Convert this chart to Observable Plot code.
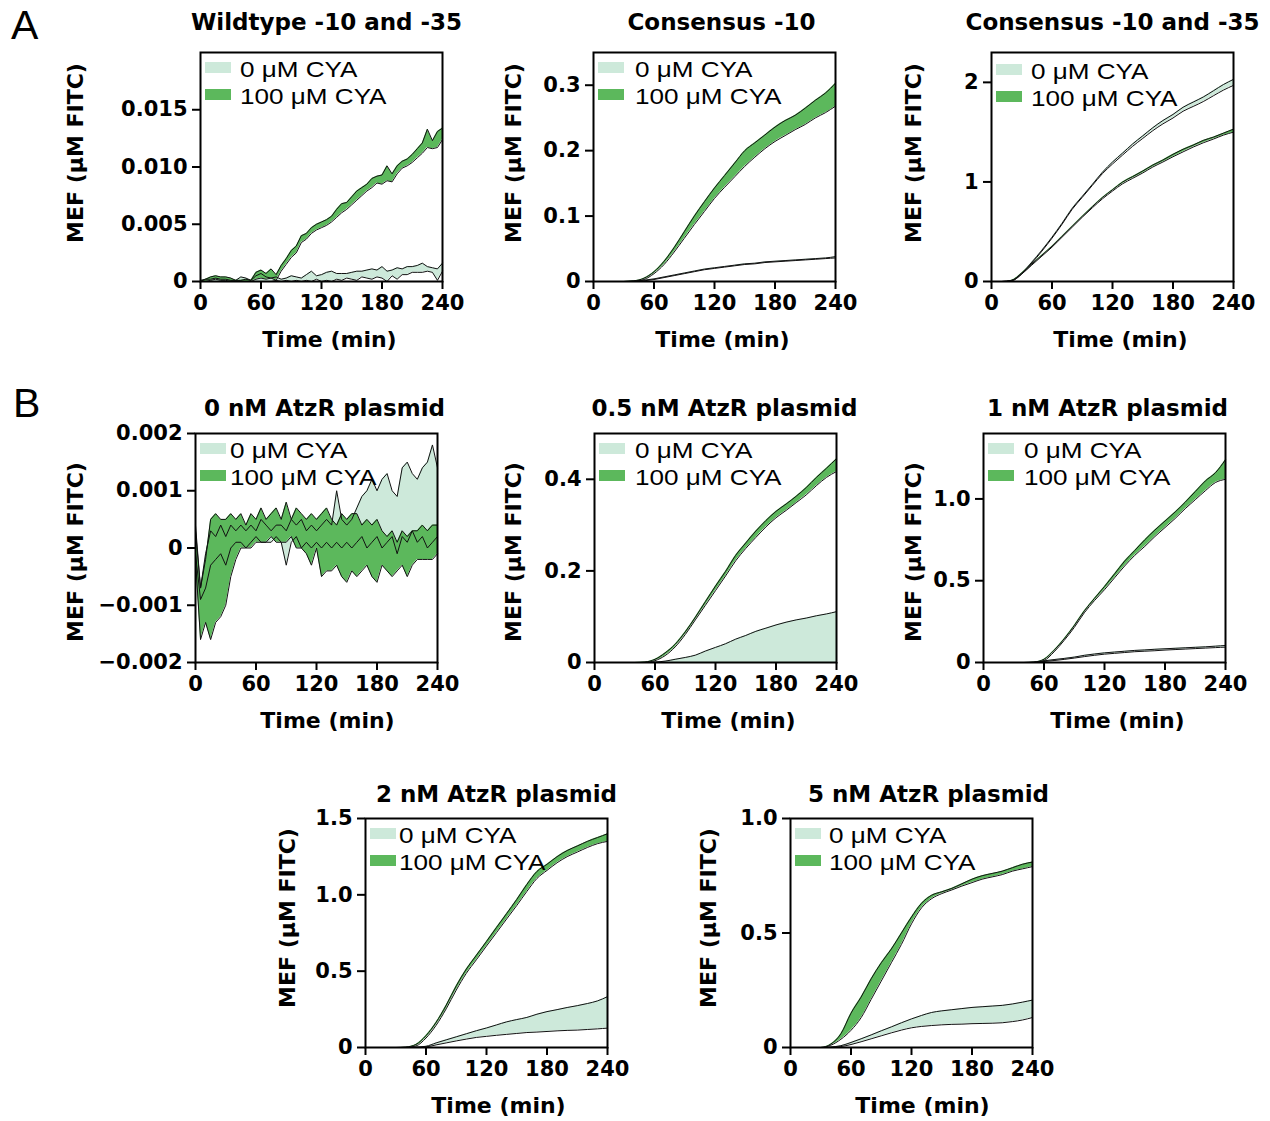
<!DOCTYPE html>
<html><head><meta charset="utf-8">
<script src="https://cdn.jsdelivr.net/npm/d3@7"></script>
<script src="https://cdn.jsdelivr.net/npm/@observablehq/plot@0.6"></script>
<style>
html,body{margin:0;padding:0;background:#fff;overflow:hidden;}
#root{position:relative;width:1270px;height:1121px;overflow:hidden;}
.letter{position:absolute;font-family:"Liberation Sans",Arial,sans-serif;font-size:41px;line-height:1;}
</style></head><body><div id="root"></div>
<script>
// ---------- data ----------
const t5 = [0,5,10,15,20,25,30,35,40,45,50,55,60,65,70,75,80,85,90,95,100,105,110,115,120,125,130,135,140,145,150,155,160,165,170,175,180,185,190,195,200,205,210,215,220,225,230,235,240];
const t10 = [0,10,20,30,40,50,60,70,80,90,100,110,120,130,140,150,160,170,180,190,200,210,220,230,240];
const xTicks = [0,60,120,180,240];
const legendLabels = ["0 μM CYA","100 μM CYA"];
const yLabel = "MEF (μM FITC)";
const xLabel = "Time (min)";

// A: Wildtype -10 and -35
const wt0Lo = [0,0,0,0,0,0,0,0,0,0,0,0,0,0,0,0.0001,0,0.0001,0,0.0001,0,0.0001,0,0.0002,0,0.0001,0,0.0002,0.0001,0.0003,0.0002,0.0001,0.0004,0.0003,0.0002,0.0004,0.0003,0,0.0005,0.0002,0.0006,0.0006,0.0008,0.0008,0.0008,0.0009,0.0008,0.0001,0.0009];
const wt0Hi = [0.0001,0.0002,0.0002,0.0003,0.0002,0.0002,0.0001,0.0001,0.0004,0.0003,0.0001,0.0005,0.0007,0.0004,0.0003,0.0004,0.0002,0.0003,0.0005,0.0004,0.0003,0.0006,0.0009,0.0005,0.0006,0.0008,0.0009,0.0007,0.0007,0.0007,0.0008,0.0009,0.0009,0.0010,0.0011,0.0010,0.0013,0.0009,0.0010,0.0012,0.0011,0.0013,0.0013,0.0014,0.0016,0.0013,0.0012,0.0011,0.0016];
const wt100Lo = [0,0,0.0001,0.0002,0.0001,0.0001,0,0,0,0,0,0.0002,0.0003,0.0002,0.0003,0.0001,0.0009,0.0015,0.0021,0.0025,0.0034,0.0037,0.0042,0.0045,0.0047,0.0049,0.0052,0.0056,0.0060,0.0063,0.0067,0.0071,0.0075,0.0079,0.0082,0.0086,0.0085,0.0088,0.0087,0.0094,0.0099,0.0101,0.0104,0.0108,0.0112,0.0117,0.0116,0.0117,0.0124];
const wt100Hi = [0,0.0002,0.0004,0.0005,0.0004,0.0004,0.0003,0.0001,0.0001,0.0002,0.0001,0.0008,0.0010,0.0007,0.0011,0.0006,0.0014,0.0020,0.0027,0.0031,0.0040,0.0042,0.0047,0.0050,0.0052,0.0054,0.0057,0.0063,0.0068,0.0069,0.0074,0.0079,0.0082,0.0085,0.0090,0.0092,0.0093,0.0101,0.0094,0.0101,0.0105,0.0107,0.0111,0.0116,0.0121,0.0133,0.0123,0.0131,0.0134];
const wtTicks = [0,0.005,0.010,0.015];

// A: Consensus -10
const c10_0Lo = [0,0,0,0,0,0.001,0.003,0.006,0.009,0.012,0.015,0.018,0.020,0.022,0.024,0.026,0.027,0.029,0.030,0.031,0.032,0.033,0.034,0.035,0.036];
const c10_0Hi = [0,0,0,0,0.0005,0.002,0.004,0.007,0.010,0.013,0.016,0.019,0.021,0.023,0.025,0.027,0.028,0.030,0.031,0.032,0.033,0.034,0.035,0.036,0.038];
const c10_100Lo = [0,0,0,0,0.0005,0.003,0.012,0.026,0.045,0.066,0.087,0.107,0.127,0.144,0.160,0.176,0.190,0.203,0.214,0.223,0.232,0.240,0.250,0.258,0.268];
const c10_100Hi = [0,0,0,0,0.001,0.005,0.015,0.031,0.052,0.076,0.100,0.122,0.143,0.162,0.181,0.200,0.212,0.224,0.236,0.246,0.254,0.265,0.277,0.288,0.303];
const c10Ticks = [0,0.1,0.2,0.3];

// A: Consensus -10 and -35
const c1035_0Lo = [0,0,0.007,0.075,0.185,0.305,0.435,0.575,0.725,0.845,0.965,1.083,1.18,1.27,1.358,1.437,1.515,1.583,1.642,1.71,1.758,1.807,1.865,1.922,1.97];
const c1035_0Hi = [0,0,0.012,0.085,0.195,0.315,0.445,0.585,0.735,0.855,0.975,1.097,1.20,1.29,1.382,1.463,1.545,1.617,1.678,1.75,1.802,1.853,1.915,1.978,2.03];
const c1035_100Lo = [0,0,0.007,0.075,0.165,0.255,0.345,0.445,0.545,0.645,0.74,0.83,0.908,0.981,1.036,1.09,1.15,1.20,1.253,1.302,1.35,1.393,1.43,1.47,1.50];
const c1035_100Hi = [0,0,0.012,0.085,0.175,0.265,0.355,0.455,0.555,0.655,0.752,0.844,0.922,0.999,1.054,1.11,1.17,1.22,1.277,1.328,1.37,1.417,1.45,1.49,1.53];
const c1035Ticks = [0,1,2];

// B: 0 nM AtzR plasmid
const n0_0Lo = [-0.0001,-0.0009,-0.0007,-0.0003,-0.0002,-0.0001,-0.0003,0.0000,0.0001,0.0001,0.0000,0.0001,0.0002,0.0001,0.0001,0.0001,0.0002,0.0001,-0.0003,0.0001,0.0002,0.0000,0.0001,0.0000,0.0001,0.0000,0.0001,0.0000,0.0001,0.0000,0.0001,0.0000,0.0001,0.0002,0.0000,0.0001,0.0002,0.0000,0.0001,0.0002,-0.0001,0.0002,0.0001,0.0003,0.0001,0.0002,0.0000,0.0001,0.0002];
const n0_0Hi = [0.0003,-0.0007,-0.0001,0.0003,0.0002,0.0004,0.0002,0.0004,0.0003,0.0004,0.0003,0.0004,0.0003,0.0005,0.0004,0.0003,0.0004,0.0004,0.0003,0.0005,0.0004,0.0005,0.0003,0.0004,0.0003,0.0004,0.0005,0.0004,0.0010,0.0005,0.0004,0.0005,0.0007,0.0009,0.0010,0.0012,0.0010,0.0012,0.0013,0.0010,0.0009,0.0014,0.0015,0.0013,0.0012,0.0014,0.0015,0.0018,0.0014];
const n0_100Lo = [-0.0002,-0.0016,-0.0013,-0.0016,-0.0013,-0.0012,-0.0010,-0.0005,-0.0002,0.0000,0.0000,0.0000,0.0001,0.0001,0.0001,0.0002,0.0001,0.0001,0.0001,0.0002,0.0000,0.0000,-0.0001,-0.0003,0.0000,-0.0005,-0.0004,-0.0004,-0.0003,-0.0005,-0.0006,-0.0004,-0.0005,-0.0004,-0.0003,-0.0005,-0.0006,-0.0003,-0.0004,-0.0005,-0.0004,-0.0003,-0.0005,-0.0003,-0.0002,-0.0002,-0.0002,-0.0002,-0.0001];
const n0_100Hi = [0.0004,-0.0007,-0.0002,0.0005,0.0006,0.0005,0.0005,0.0006,0.0005,0.0006,0.0004,0.0006,0.0005,0.0007,0.0005,0.0006,0.0007,0.0005,0.0008,0.0005,0.0007,0.0006,0.0005,0.0006,0.0005,0.0006,0.0007,0.0005,0.0004,0.0006,0.0005,0.0006,0.0006,0.0004,0.0005,0.0004,0.0005,0.0003,0.0002,0.0003,0.0001,0.0003,0.0002,0.0003,0.0003,0.0004,0.0003,0.0004,0.0004];
const n0Ticks = [-0.002,-0.001,0,0.001,0.002];

// B: 0.5 nM AtzR plasmid
const n05_0Lo = [0,0,0,0,0,0,0,0,0,0,0,0,0,0,0,0,0,0,0,0,0,0,0,0,0];
const n05_0Hi = [0,0,0,0,0,0,0.001,0.003,0.007,0.011,0.016,0.025,0.033,0.041,0.051,0.059,0.068,0.075,0.082,0.088,0.093,0.097,0.102,0.106,0.111];
const n05_100Lo = [0,0,0,0,0,0,0.004,0.015,0.034,0.061,0.093,0.125,0.157,0.189,0.222,0.249,0.273,0.296,0.316,0.332,0.349,0.366,0.386,0.404,0.417];
const n05_100Hi = [0,0,0,0,0,0.001,0.007,0.021,0.040,0.067,0.099,0.133,0.167,0.199,0.234,0.261,0.287,0.310,0.330,0.346,0.363,0.382,0.404,0.424,0.445];
const n05Ticks = [0,0.2,0.4];

// B: 1 nM AtzR plasmid
const n1_0Lo = [0,0,0,0,0,0,0.006,0.012,0.019,0.027,0.036,0.044,0.051,0.056,0.061,0.066,0.069,0.072,0.076,0.079,0.082,0.085,0.088,0.091,0.094];
const n1_0Hi = [0,0,0,0,0,0.001,0.010,0.018,0.025,0.033,0.044,0.052,0.059,0.064,0.069,0.074,0.077,0.081,0.084,0.087,0.090,0.093,0.096,0.100,0.104];
const n1_100Lo = [0,0,0,0,0,0.001,0.012,0.065,0.135,0.214,0.304,0.378,0.445,0.518,0.59,0.655,0.71,0.77,0.825,0.88,0.94,0.995,1.05,1.10,1.12];
const n1_100Hi = [0,0,0,0,0,0.003,0.02,0.075,0.145,0.226,0.316,0.392,0.465,0.542,0.62,0.685,0.75,0.81,0.865,0.92,0.98,1.045,1.11,1.16,1.24];
const n1Ticks = [0,0.5,1.0];

// B: 2 nM AtzR plasmid
const n2_0Lo = [0,0,0,0,0,0.001,0.004,0.017,0.03,0.043,0.055,0.066,0.073,0.08,0.086,0.092,0.098,0.101,0.105,0.109,0.112,0.114,0.118,0.122,0.127];
const n2_0Hi = [0,0,0,0,0,0.002,0.008,0.03,0.05,0.07,0.09,0.11,0.128,0.148,0.168,0.183,0.197,0.218,0.235,0.248,0.262,0.274,0.288,0.305,0.333];
const n2_100Lo = [0,0,0,0,0.001,0.01,0.062,0.145,0.253,0.376,0.486,0.575,0.665,0.753,0.842,0.93,1.022,1.107,1.16,1.21,1.25,1.28,1.31,1.335,1.35];
const n2_100Hi = [0,0,0,0,0.003,0.02,0.078,0.165,0.277,0.404,0.514,0.605,0.695,0.787,0.878,0.97,1.068,1.153,1.20,1.25,1.29,1.32,1.35,1.375,1.40];
const n2Ticks = [0,0.5,1.0,1.5];

// B: 5 nM AtzR plasmid
const n5_0Lo = [0,0,0,0,0.001,0.004,0.013,0.025,0.038,0.051,0.064,0.076,0.086,0.092,0.096,0.099,0.101,0.102,0.104,0.105,0.106,0.108,0.113,0.12,0.131];
const n5_0Hi = [0,0,0,0,0.002,0.008,0.022,0.038,0.055,0.073,0.09,0.108,0.125,0.14,0.153,0.16,0.165,0.17,0.175,0.178,0.181,0.184,0.19,0.198,0.207];
const n5_100Lo = [0,0,0,0,0.01,0.036,0.075,0.13,0.21,0.29,0.37,0.45,0.54,0.61,0.65,0.672,0.688,0.705,0.72,0.735,0.745,0.755,0.77,0.78,0.79];
const n5_100Hi = [0,0,0,0,0.015,0.06,0.15,0.22,0.30,0.37,0.43,0.50,0.57,0.63,0.665,0.68,0.695,0.715,0.735,0.75,0.76,0.77,0.785,0.80,0.81];
const n5Ticks = [0,0.5,1.0];

// ---------- style / layout ----------
const light = "#cde9da", dark = "#5cb85c";
const ML = 140, MR = 40, MT = 50, MB = 78, W = 242, H = 229;
const f0 = d => d === 0 ? "0" : String(d);
const f1 = d => d === 0 ? "0" : d.toFixed(1);
const f3 = d => d === 0 ? "0" : (d < 0 ? "\u2212" : "") + Math.abs(d).toFixed(3);

const panels = [
  {title:"Wildtype -10 and -35", t:t5, lo0:wt0Lo, hi0:wt0Hi, lo1:wt100Lo, hi1:wt100Hi, domain:[0,0.02], ticks:wtTicks, fmt:f3, curve:"linear",
   fx:200, fy:52, tDx:5, tDy:-30, yDx:-125, yDy:-14, xDx:8, legX:40, legY:0},
  {title:"Consensus -10", t:t10, lo0:c10_0Lo, hi0:c10_0Hi, lo1:c10_100Lo, hi1:c10_100Hi, domain:[0,0.35], ticks:c10Ticks, fmt:f1, curve:"monotone-x",
   fx:593, fy:52, tDx:7, tDy:-30, yDx:-80, yDy:-14, xDx:8, legX:42, legY:0},
  {title:"Consensus -10 and -35", t:t10, lo0:c1035_0Lo, hi0:c1035_0Hi, lo1:c1035_100Lo, hi1:c1035_100Hi, domain:[0,2.3], ticks:c1035Ticks, fmt:f0, curve:"monotone-x",
   fx:991, fy:52, tDx:0, tDy:-30, yDx:-78, yDy:-14, xDx:8, legX:40, legY:2},
  {title:"0 nM AtzR plasmid", t:t5, lo0:n0_0Lo, hi0:n0_0Hi, lo1:n0_100Lo, hi1:n0_100Hi, domain:[-0.002,0.002], ticks:n0Ticks, fmt:f3, curve:"linear",
   fx:195, fy:433, tDx:8, tDy:-25, yDx:-120, yDy:4, xDx:11, legX:35, legY:0},
  {title:"0.5 nM AtzR plasmid", t:t10, lo0:n05_0Lo, hi0:n05_0Hi, lo1:n05_100Lo, hi1:n05_100Hi, domain:[0,0.5], ticks:n05Ticks, fmt:f1, curve:"monotone-x",
   fx:594, fy:433, tDx:9, tDy:-25, yDx:-81, yDy:4, xDx:13, legX:41, legY:0},
  {title:"1 nM AtzR plasmid", t:t10, lo0:n1_0Lo, hi0:n1_0Hi, lo1:n1_100Lo, hi1:n1_100Hi, domain:[0,1.4], ticks:n1Ticks, fmt:f1, curve:"monotone-x",
   fx:983, fy:433, tDx:3, tDy:-25, yDx:-70, yDy:4, xDx:13, legX:41, legY:0},
  {title:"2 nM AtzR plasmid", t:t10, lo0:n2_0Lo, hi0:n2_0Hi, lo1:n2_100Lo, hi1:n2_100Hi, domain:[0,1.5], ticks:n2Ticks, fmt:f1, curve:"monotone-x",
   fx:365, fy:818, tDx:10, tDy:-24, yDx:-78, yDy:-15, xDx:12, legX:34, legY:0},
  {title:"5 nM AtzR plasmid", t:t10, lo0:n5_0Lo, hi0:n5_0Hi, lo1:n5_100Lo, hi1:n5_100Hi, domain:[0,1.0], ticks:n5Ticks, fmt:f1, curve:"monotone-x",
   fx:790, fy:818, tDx:17, tDy:-24, yDx:-82, yDy:-15, xDx:11, legX:39, legY:0}
];

function legendMark(p) {
  return (index, scales, values, dims) => {
    const g = d3.create("svg:g");
    const x0 = dims.marginLeft, y0 = dims.marginTop;
    legendLabels.forEach((label, i) => {
      const top = y0 + p.legY + 10 + 27 * i;
      g.append("rect").attr("x", x0 + 5).attr("y", top).attr("width", 26).attr("height", 11)
        .attr("fill", i === 0 ? light : dark);
      g.append("text")
        .attr("transform", `translate(${x0 + p.legX},${top + 15}) scale(1.16,1)`)
        .attr("text-anchor", "start")
        .attr("font-family", "Liberation Sans, Arial, sans-serif")
        .attr("font-weight", "normal").attr("font-size", 22.5).attr("fill", "black")
        .text(label);
    });
    return g.node();
  };
}

const root = document.getElementById("root");
for (const p of panels) {
  const rows0 = p.t.map((t, i) => ({t, lo: p.lo0[i], hi: p.hi0[i]}));
  const rows1 = p.t.map((t, i) => ({t, lo: p.lo1[i], hi: p.hi1[i]}));
  const edge = {x: "t", stroke: "#111", strokeWidth: 1, curve: p.curve};
  const svg = Plot.plot({
    width: ML + W + MR, height: MT + H + MB,
    marginLeft: ML, marginRight: MR, marginTop: MT, marginBottom: MB,
    style: {fontFamily: "'DejaVu Sans', sans-serif", fontSize: "21px", fontWeight: "bold",
            background: "transparent", overflow: "visible", color: "black"},
    x: {domain: [0, 240]},
    y: {domain: p.domain},
    marks: [
      Plot.areaY(rows0, {x: "t", y1: "lo", y2: "hi", fill: light, curve: p.curve}),
      Plot.areaY(rows1, {x: "t", y1: "lo", y2: "hi", fill: dark, curve: p.curve}),
      Plot.lineY(rows0, {...edge, y: "lo"}),
      Plot.lineY(rows0, {...edge, y: "hi"}),
      Plot.lineY(rows1, {...edge, y: "lo"}),
      Plot.lineY(rows1, {...edge, y: "hi"}),
      Plot.frame({stroke: "black", strokeWidth: 2}),
      Plot.axisX({ticks: xTicks, tickFormat: d => String(d), tickSize: 8, tickPadding: 6, strokeWidth: 2, label: null}),
      Plot.axisY({ticks: p.ticks, tickFormat: p.fmt, tickSize: 8, tickPadding: 5, strokeWidth: 2, label: null}),
      Plot.text([p.title], {frameAnchor: "top", dx: p.tDx, dy: p.tDy, fontSize: 23, fontWeight: "bold", lineAnchor: "middle"}),
      Plot.text([yLabel], {frameAnchor: "left", rotate: -90, dx: p.yDx, dy: p.yDy, fontSize: 22, fontWeight: "bold", textAnchor: "middle", lineAnchor: "middle"}),
      Plot.text([xLabel], {frameAnchor: "bottom", dx: p.xDx, dy: 58, fontSize: 22, fontWeight: "bold", lineAnchor: "middle"}),
      legendMark(p)
    ]
  });
  svg.style.position = "absolute";
  svg.style.left = (p.fx - ML) + "px";
  svg.style.top = (p.fy - MT) + "px";
  svg.style.maxWidth = "none";
  root.appendChild(svg);
}

for (const [txt, x, y] of [["A", 11, 5], ["B", 13, 383]]) {
  const d = document.createElement("div");
  d.className = "letter"; d.textContent = txt;
  d.style.left = x + "px"; d.style.top = y + "px";
  root.appendChild(d);
}
</script>
</body></html>
